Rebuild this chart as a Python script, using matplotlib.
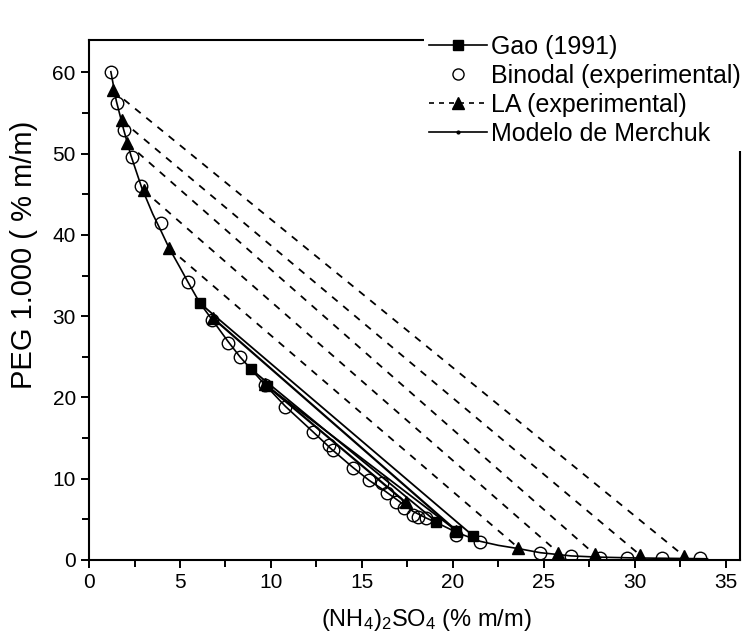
import matplotlib
matplotlib.use("Agg")
import matplotlib.pyplot as plt
from matplotlib.lines import Line2D
from matplotlib.ticker import MultipleLocator

plt.rcParams['font.family'] = ['Liberation Sans', 'DejaVu Sans']
plt.rcParams['mathtext.fontset'] = 'custom'
plt.rcParams['mathtext.rm'] = 'Liberation Sans'
plt.rcParams['mathtext.it'] = 'Liberation Sans'

# Binodal (experimental) points
bin_x = [1.2, 1.54, 1.92, 2.36, 2.86, 3.96, 5.44, 6.76, 7.64, 8.3, 9.7, 10.8, 12.3, 13.2, 13.4,
         14.5, 15.4, 16.1, 16.4, 16.9, 17.3, 17.8, 18.1, 18.5, 20.2, 21.5, 24.8, 26.5, 28.1, 29.6,
         31.5, 33.6]
bin_y = [60.1, 56.2, 52.9, 49.6, 46.0, 41.5, 34.2, 29.5, 26.7, 25.0, 21.5, 18.8, 15.7, 14.1, 13.5,
         11.3, 9.8, 9.5, 8.2, 7.1, 6.4, 5.5, 5.3, 5.2, 3.1, 2.2, 0.9, 0.5, 0.3, 0.3,
         0.25, 0.25]

# LA (experimental) tie lines: top (PEG-rich) and bottom (salt-rich) phases
la_top_x = [1.3, 1.8, 2.1, 3.0, 4.4]
la_top_y = [57.8, 54.1, 51.3, 45.5, 38.4]
la_bot_x = [32.7, 30.3, 27.8, 25.8, 23.6]
la_bot_y = [0.5, 0.6, 0.7, 0.9, 1.5]

# Near-critical LA tie lines
la2_top_x = [6.8, 9.7]
la2_top_y = [29.8, 21.6]
la2_bot_x = [20.2, 17.4]
la2_bot_y = [3.6, 7.1]

# Gao (1991) tie lines
gao_top_x = [6.1, 8.9, 9.8]
gao_top_y = [31.6, 23.5, 21.4]
gao_bot_x = [21.1, 19.1, 20.2]
gao_bot_y = [3.0, 4.7, 3.6]

# Merchuk model curve (read along the binodal)
mer_x = [1.2, 1.5, 1.9, 2.3, 2.9, 3.5, 4.0, 4.4, 5.0, 5.44, 6.1, 6.76, 7.64, 8.3, 8.9, 9.7, 10.8,
         12.3, 13.3, 14.5, 15.4, 16.2, 17.0, 17.8, 18.5, 19.2, 20.2, 21.5, 22.5, 23.6, 24.8, 26.5,
         28.0, 30.0, 32.0, 34.0]
mer_y = [60.1, 56.5, 53.0, 49.8, 45.8, 42.6, 40.3, 38.4, 36.0, 34.2, 31.6, 29.6, 26.9, 25.0, 23.5,
         21.5, 18.9, 15.8, 13.7, 11.4, 9.8, 8.6, 7.3, 6.0, 5.2, 4.5, 3.4, 2.3, 1.8, 1.4, 0.9, 0.5,
         0.35, 0.25, 0.2, 0.15]

fig = plt.figure(figsize=(7.5, 6.41), dpi=100)
ax = fig.add_axes([0.1187, 0.1264, 0.8683, 0.8112])

# Merchuk model
ax.plot(mer_x, mer_y, '-', color='black', lw=1.2, zorder=2)

# LA dashed tie lines
for tx, ty, bx, by in zip(la_top_x, la_top_y, la_bot_x, la_bot_y):
    ax.plot([tx, bx], [ty, by], '--', color='black', lw=1.3, dashes=(4, 4), zorder=2)
    ax.plot([tx, bx], [ty, by], '^', color='black', ms=8, ls='none', zorder=4)

for tx, ty, bx, by in zip(la2_top_x, la2_top_y, la2_bot_x, la2_bot_y):
    ax.plot([tx, bx], [ty, by], '-', color='black', lw=1.6, zorder=2)
    ax.plot([tx, bx], [ty, by], '^', color='black', ms=8, ls='none', zorder=4)

# Gao tie lines
for tx, ty, bx, by in zip(gao_top_x, gao_top_y, gao_bot_x, gao_bot_y):
    ax.plot([tx, bx], [ty, by], '-', color='black', lw=1.3, zorder=2)
    ax.plot([tx, bx], [ty, by], 's', color='black', ms=7, ls='none', zorder=4)

# Binodal points
ax.plot(bin_x, bin_y, 'o', mfc='none', mec='black', mew=1.0, ms=9, ls='none', zorder=3)

ax.set_xlim(0, 35.8)
ax.set_ylim(0, 64)
ax.xaxis.set_major_locator(MultipleLocator(5))
ax.xaxis.set_minor_locator(MultipleLocator(2.5))
ax.yaxis.set_major_locator(MultipleLocator(10))
ax.yaxis.set_minor_locator(MultipleLocator(5))
ax.tick_params(which='both', direction='out', top=False, right=False, width=1.4, labelsize=15)
ax.tick_params(which='major', length=6)
ax.tick_params(which='minor', length=5)
for s in ax.spines.values():
    s.set_linewidth(1.5)

ax.set_xlabel('(NH$_4$)$_2$SO$_4$ (% m/m)', fontsize=17)
ax.xaxis.set_label_coords(0.518, -0.090)
ax.set_ylabel('PEG 1.000 ( % m/m)', fontsize=21)
ax.yaxis.set_label_coords(-0.078, 0.587)

handles = [
    Line2D([], [], color='black', lw=1.2, marker='s', ms=7),
    Line2D([], [], color='black', lw=0, marker='o', mfc='none', ms=8),
    Line2D([], [], color='black', lw=1.2, ls='--', dashes=(3, 3), marker='^', ms=9),
    Line2D([], [], color='black', lw=1.2, marker='.', ms=4),
]
labels = ['Gao (1991)', 'Binodal (experimental)', 'LA (experimental)', 'Modelo de Merchuk']
leg = ax.legend(handles, labels, loc='upper right', frameon=True, fancybox=False, fontsize=18,
                handlelength=2.3, handletextpad=0.15, labelspacing=0.2, borderaxespad=0.0,
                borderpad=0.2, bbox_to_anchor=(1.0077, 1.0198), facecolor='white',
                edgecolor='none', framealpha=1.0)
leg.set_zorder(10)

fig.savefig('out.png', dpi=100)
